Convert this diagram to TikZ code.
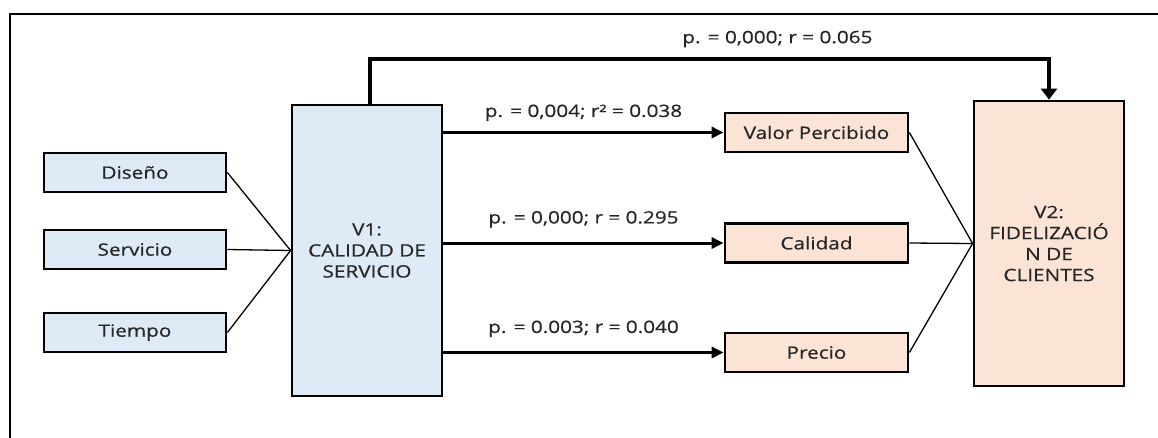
\documentclass[tikz,border=0pt]{standalone}
\usepackage{fontspec}
\setmainfont{Open Sans}[FakeStretch=1.22,FakeBold=0.6]
\usetikzlibrary{arrows.meta}
\definecolor{boxblue}{HTML}{DEEAF6}
\definecolor{boxorange}{HTML}{FBE4D5}
\definecolor{ink}{HTML}{262626}
\tikzset{
  dim/.style={draw=black, line width=2.8pt, fill=boxblue, minimum width=182pt, minimum height=39pt, inner sep=0pt, text=ink},
  var/.style={draw=black, line width=2.8pt, fill=boxblue, align=center, inner sep=0pt, text=ink},
  res/.style={draw=black, line width=2.8pt, fill=boxorange, minimum width=183pt, minimum height=39pt, inner sep=0pt, text=ink},
  thin/.style={line width=1.3pt},
  flow/.style={line width=3pt, -{Triangle[length=12pt,width=11pt]}},
  lbl/.style={inner sep=0pt, text=ink},
}
\begin{document}
\begin{tikzpicture}[x=1pt,y=-1pt,font=\fontsize{17}{21}\selectfont]
\useasboundingbox (0,0) rectangle (1158,437);
\fill[white] (0,0) rectangle (1158,437);
% outer frame
\draw[line width=2.2pt] (10,460) -- (10,14) -- (1180,14);

% dimensions of V1
\node[dim] (dis) at (135,172.5) {Diseño};
\node[dim] (ser) at (135,249.5) {Servicio};
\node[dim] (tie) at (135,332.5) {Tiempo};

% main variables
\node[var, minimum width=150pt, minimum height=291pt] (v1) at (367,250.5) {V1:\\CALIDAD DE\\SERVICIO};
\node[var, fill=boxorange, minimum width=150pt, minimum height=285pt] (v2) at (1049,243.5) {V2:\\FIDELIZACIÓ\\N DE\\CLIENTES};

% dimensions of V2
\node[res] (val) at (816.5,132.5) {Valor Percibido};
\node[res] (cal) at (816.5,243) {Calidad};
\node[res] (pre) at (816.5,352.5) {Precio};

% thin links
\draw[thin] (dis.east) -- (v1.west);
\draw[thin] (ser.east) -- (v1.west);
\draw[thin] (tie.east) -- (v1.west);
\draw[thin] (val.east) -- (v2.west);
\draw[thin] (cal.east) -- (v2.west);
\draw[thin] (pre.east) -- (v2.west);

% relations
\draw[flow] (v1.east |- val) -- (val.west) node[lbl, midway, above=10pt] {p. = 0,004; r² = 0.038};
\draw[flow] (v1.east |- cal) -- (cal.west) node[lbl, midway, above=14pt] {p. = 0,000; r = 0.295};
\draw[flow] (v1.east |- pre) -- (pre.west) node[lbl, midway, above=14pt] {p. = 0.003; r = 0.040};

% direct relation V1 -> V2
\coordinate (top) at (370,59);
\draw[line width=3.5pt, -{Triangle[length=11pt,width=16pt]}] ([xshift=3pt]v1.north) -- (top) -| (v2.north)
  node[lbl, pos=0.3, above=10pt] {p. = 0,000; r = 0.065};
\end{tikzpicture}
\end{document}
